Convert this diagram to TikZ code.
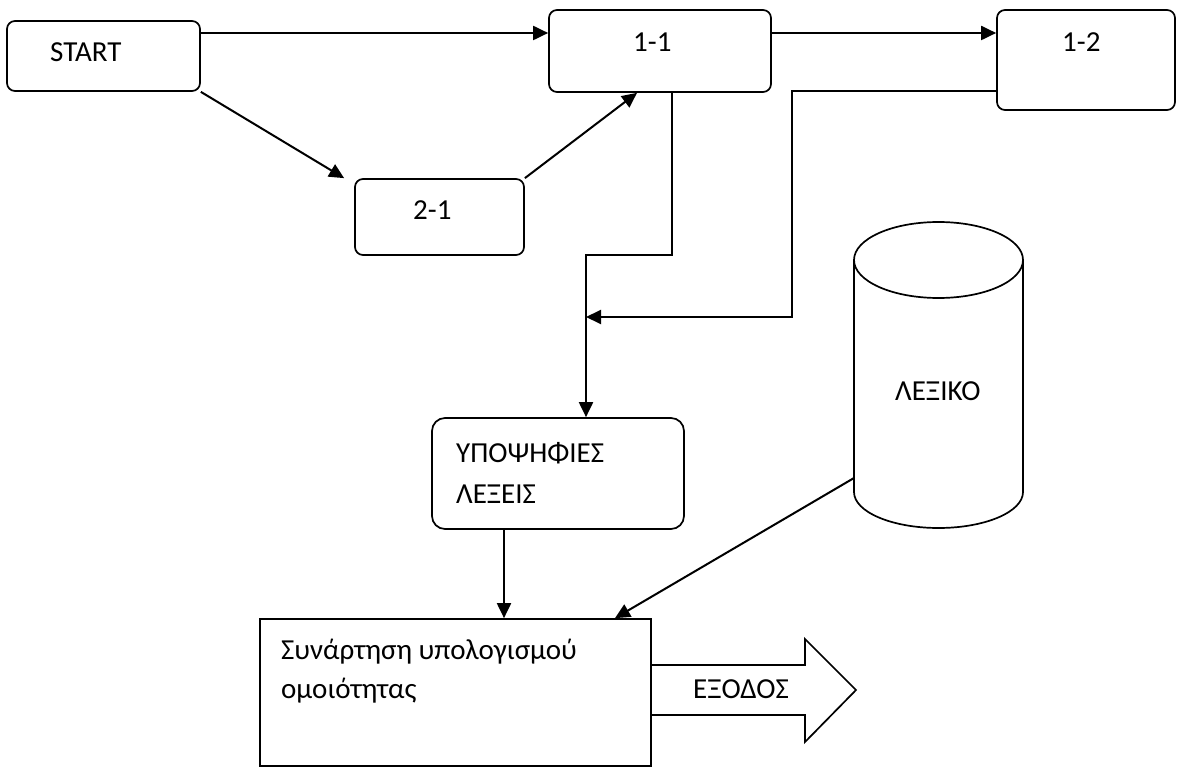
\documentclass[tikz,border=0pt]{standalone}
\usepackage{fontspec}
\setmainfont{Carlito}
\usetikzlibrary{arrows.meta}
\tikzset{
  rbox/.style= {draw, rounded corners=8pt, line width=1.7pt, inner sep=0},
  sbox/.style= {draw, line width=1.7pt, inner sep=0},
  txt/.style= {anchor=base west, inner sep=0, font=\fontsize{29}{35}\selectfont},
  arr/.style= {line width=2pt, -{Triangle[length=15pt, width=14pt]}},
}

\begin{document}
\begin{tikzpicture}[x=1pt, y=-1pt]
  \useasboundingbox (0,0) rectangle (1177,767);
  \node [rbox, minimum width=193pt, minimum height=70pt] (s) at (103.5,56) {} ;
  \node [rbox, minimum width=222pt, minimum height=82pt] (n11) at (660,51) {} ;
  \node [rbox, minimum width=178pt, minimum height=100pt] (n12) at (1086,60) {} ;
  \node [rbox, minimum width=169pt, minimum height=76pt] (n21) at (439.5,217) {} ;
  \node [rbox, rounded corners=13pt, minimum width=252pt, minimum height=111pt] (cand) at (558,473.5) {} ;
  \node [sbox, minimum width=391pt, minimum height=147pt] (func) at (455.5,692.5) {} ;

  \node [txt] at (50,62) {START} ;
  \node [txt] at (633,52) {1-1} ;
  \node [txt] at (1062,52) {1-2} ;
  \node [txt] at (413,220) {2-1} ;
  \node [txt] at (456,462) {ΥΠΟΨΗΦΙΕΣ} ;
  \node [txt] at (456,503) {ΛΕΞΕΙΣ} ;
  \node [txt] at (281,659) {Συνάρτηση υπολογισμού} ;
  \node [txt] at (281,698) {ομοιότητας} ;

  % dictionary
  \draw [line width=1.7pt] (854,260) -- (854,492)
    arc [start angle=180, end angle=0, x radius=84.5, y radius=36] -- (1023,260) ;
  \draw [line width=1.7pt] (938.5,260) ellipse [x radius=84.5, y radius=38] ;
  \node [txt] (lex) at (895,400) {ΛΕΞΙΚΟ} ;
  \coordinate (lexw) at (854,478) ;

  % output
  \draw [line width=1.7pt] (func.east |- 0,665) -- (805,665) -- (805,639) -- (856,690)
    -- (805,742) -- (805,715) -- (func.east |- 0,715) ;
  \node [txt] (out) at (693,698) {ΕΞΟΔΟΣ} ;

  \coordinate (join) at (586,317) ;
  \draw [arr] (s.east |- 0,33) -- (n11.west |- 0,33) ;
  \draw [arr] (n11.east |- 0,33) -- (n12.west |- 0,33) ;
  \draw [arr] (s.south east) -- ([xshift=-10pt]n21.north west) ;
  \draw [arr] (n21.north east) -- ([xshift=-23pt]n11.south) ;
  \draw [arr] (n11.south -| 672,0) -- ++(0,162) -| (cand.north -| join) ;
  \draw [arr] (n12.west |- 0,91) -| (792,317) -- (join) ;
  \draw [arr] (cand.south -| 504,0) -- (func.north -| 504,0) ;
  \draw [arr] (lexw) -- (func.north -| 615,0) ;
\end{tikzpicture}
\end{document}
